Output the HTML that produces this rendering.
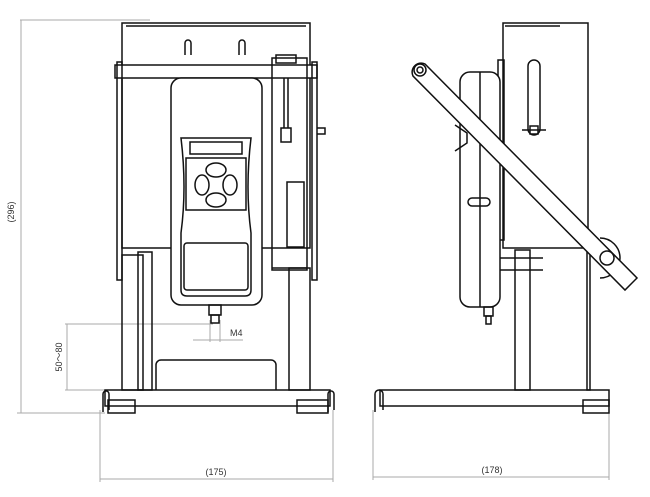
<!DOCTYPE html>
<html><head><meta charset="utf-8"><style>html,body{margin:0;padding:0;background:#fff}svg{display:block}</style></head>
<body>
<svg width="650" height="497" viewBox="0 0 650 497" xmlns="http://www.w3.org/2000/svg" font-family="Liberation Sans, sans-serif">
<g stroke="#aaa" stroke-width="1" fill="none">
<line x1="20" y1="20" x2="150" y2="20"/>
<line x1="21" y1="20" x2="21" y2="413"/>
<line x1="17" y1="413" x2="105" y2="413"/>
<line x1="65" y1="324" x2="213" y2="324"/>
<line x1="67" y1="324" x2="67" y2="390"/>
<line x1="65" y1="390" x2="105" y2="390"/>
<line x1="100" y1="410" x2="100" y2="482"/>
<line x1="333" y1="410" x2="333" y2="482"/>
<line x1="100" y1="479" x2="333" y2="479"/>
<line x1="373" y1="410" x2="373" y2="480"/>
<line x1="609" y1="410" x2="609" y2="480"/>
<line x1="373" y1="477" x2="609" y2="477"/>
<line x1="210" y1="320" x2="210" y2="342"/>
<line x1="220" y1="320" x2="220" y2="342"/>
<line x1="193" y1="340" x2="243" y2="340"/>
</g>
<g fill="#333" font-size="9">
<text x="14" y="212" transform="rotate(-90 14 212)" text-anchor="middle">(296)</text>
<text x="62" y="357" transform="rotate(-90 62 357)" text-anchor="middle">50～80</text>
<text x="230" y="336">M4</text>
<text x="216" y="475" text-anchor="middle">(175)</text>
<text x="492" y="473" text-anchor="middle">(178)</text>
</g>
<g stroke="#111" stroke-width="1.5" fill="none">
<rect x="122" y="23" width="188" height="225"/>
<line x1="126" y1="26" x2="306" y2="26"/>
<rect x="115" y="65" width="202" height="13" fill="#fff"/>
<rect x="117" y="62" width="5" height="218"/>
<rect x="312" y="62" width="5" height="218"/>
<path d="M185 55 v-12 a3 3 0 0 1 6 0 v12 M239 55 v-12 a3 3 0 0 1 6 0 v12"/>
<rect x="272" y="58" width="35" height="212"/>
<rect x="276" y="55" width="20" height="8"/>
<line x1="284" y1="78" x2="284" y2="128"/><line x1="288" y1="78" x2="288" y2="128"/>
<rect x="281" y="128" width="10" height="14"/>
<rect x="287" y="182" width="17" height="65"/>
<line x1="272" y1="268" x2="307" y2="268"/>
<path d="M317 128 h8 v6 h-8"/>
<rect x="138" y="252" width="14" height="138"/>
<rect x="122" y="255" width="21" height="135"/>
<rect x="289" y="268" width="21" height="122"/>
<path d="M156 390 v-25 a5 5 0 0 1 5 -5 h110 a5 5 0 0 1 5 5 v25"/>
<rect x="171" y="78" width="91" height="227" rx="10" fill="#fff"/>
<path d="M181 138 h70 q-6 50 0 95 v57 q0 6 -6 6 h-58 q-6 0 -6 -6 v-57 q6 -45 0 -95z"/>
<rect x="190" y="142" width="52" height="12"/>
<rect x="186" y="158" width="60" height="52"/>
<ellipse cx="216" cy="170" rx="10" ry="7"/><ellipse cx="216" cy="200" rx="10" ry="7"/>
<ellipse cx="202" cy="185" rx="7" ry="10"/><ellipse cx="230" cy="185" rx="7" ry="10"/>
<rect x="184" y="243" width="64" height="47" rx="3"/>
<rect x="209" y="305" width="12" height="10"/><rect x="211" y="315" width="8" height="8"/>
<rect x="105" y="390" width="225" height="16"/>
<rect x="108" y="400" width="27" height="13"/>
<rect x="297" y="400" width="31" height="13"/>
<path d="M103 412 v-18 a3 3 0 0 1 6 0 v16 M328 412 v-18 a3 3 0 0 1 6 0 v16"/>
<rect x="503" y="23" width="85" height="225"/>
<line x1="505" y1="26" x2="560" y2="26"/>
<rect x="528" y="60" width="12" height="75" rx="6"/>
<path d="M522 130 h24 M530 126 h8 v8 h-8z"/>
<rect x="498" y="60" width="6" height="180"/>
<rect x="460" y="72" width="40" height="235" rx="10" fill="#fff"/>
<line x1="480" y1="72" x2="480" y2="307"/>
<rect x="468" y="198" width="22" height="8" rx="4"/>
<path d="M455 125 l12 8 v10 l-12 8"/>
<rect x="484" y="307" width="9" height="9"/><rect x="486" y="316" width="5" height="8"/>
<rect x="515" y="250" width="15" height="140"/>
<rect x="587" y="248" width="3" height="142"/>
<path d="M500 258 h43 M500 270 h43"/>
<path d="M600 238 a20 20 0 0 1 0 40" />
<path d="M413 76 a9 9 0 0 1 12 -12 L637 278 l-12 12 z" fill="#fff"/>
<circle cx="420" cy="70" r="6"/><circle cx="420" cy="70" r="3"/>
<circle cx="607" cy="258" r="7"/>
<rect x="380" y="390" width="229" height="16"/>
<rect x="583" y="400" width="26" height="13"/>
<path d="M375 412 v-18 a4 4 0 0 1 8 0 v16"/>
</g>
</svg>
</body></html>
